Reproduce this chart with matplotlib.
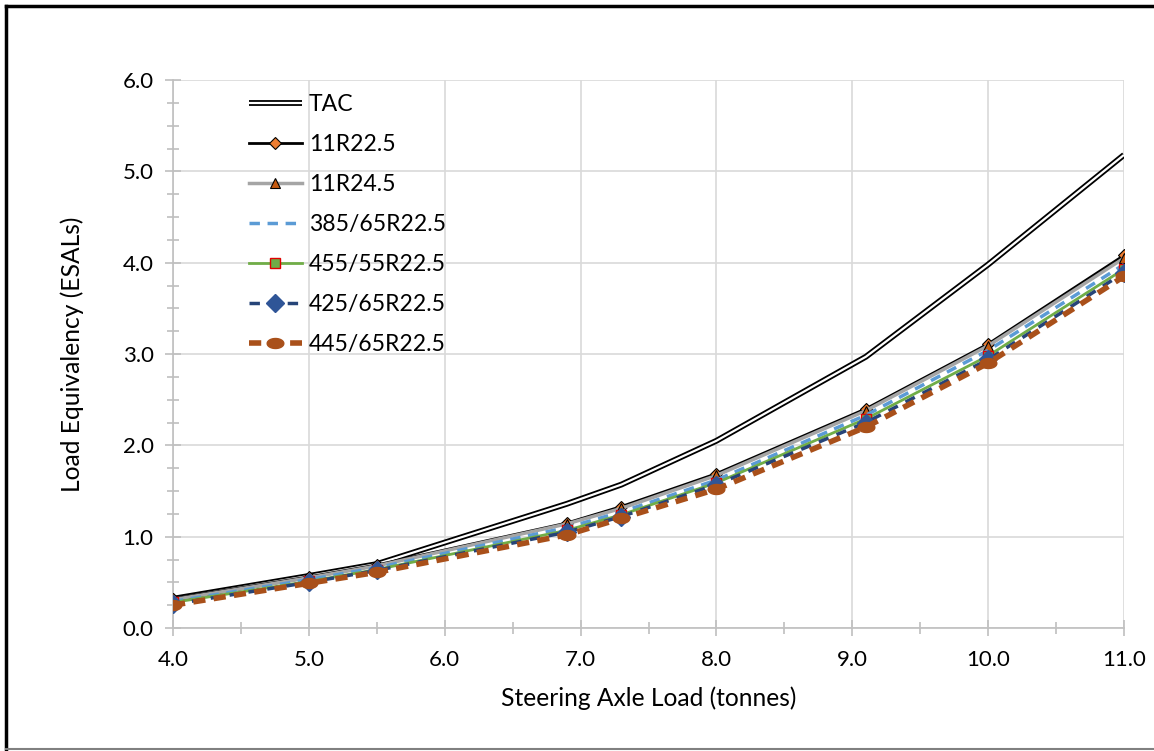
import matplotlib
matplotlib.use("Agg")
import matplotlib.pyplot as plt
import matplotlib.patheffects as pe
import numpy as np
from matplotlib.ticker import MultipleLocator, FormatStrFormatter
from matplotlib.lines import Line2D
from matplotlib.path import Path

plt.rcParams['font.family'] = ['Lato', 'DejaVu Sans']

load = [4.0, 5.0, 5.5, 6.9, 7.3, 8.0, 9.1, 10.0, 11.0]
tac = [0.32, 0.57, 0.70, 1.36, 1.57, 2.05, 2.97, 3.98, 5.18]
r11_225 = [0.32, 0.56, 0.69, 1.15, 1.33, 1.69, 2.40, 3.11, 4.08]
r11_245 = [0.31, 0.55, 0.68, 1.14, 1.31, 1.67, 2.38, 3.09, 4.05]
r385 = [0.29, 0.53, 0.66, 1.10, 1.27, 1.62, 2.33, 3.04, 3.98]
r455 = [0.28, 0.51, 0.64, 1.07, 1.24, 1.59, 2.29, 2.98, 3.93]
r425 = [0.26, 0.50, 0.63, 1.05, 1.22, 1.57, 2.25, 2.94, 3.89]
r445 = [0.25, 0.49, 0.61, 1.02, 1.20, 1.52, 2.20, 2.90, 3.85]

# horizontal ellipse marker
_t = np.linspace(0, 2 * np.pi, 40)
ellipse = Path(np.column_stack([np.cos(_t), 0.6 * np.sin(_t)]), closed=True)

fig = plt.figure(figsize=(11.54, 7.51), dpi=100)
ax = fig.add_axes([173/1154, 1-628/751, (1124-173)/1154, (628-80)/751])

ax.plot(load, tac, color='white', lw=1.6, label='TAC', solid_capstyle='butt',
        path_effects=[pe.Stroke(linewidth=4.2, foreground='black'), pe.Normal()], zorder=3)
ax.plot(load, r11_225, color='black', lw=2, marker='D', ms=6, mfc='#ED7D31', mec='black', mew=0.8,
        label='11R22.5', zorder=4)
ax.plot(load, r11_245, color='#A5A5A5', lw=2.5, marker='^', ms=7, mfc='#C55A11', mec='black', mew=0.8,
        label='11R24.5', zorder=4)
ax.plot(load, r385, color='#5B9BD5', lw=2.5, ls=(0, (3, 2.2)), label='385/65R22.5', zorder=4)
ax.plot(load, r455, color='#70AD47', lw=2, marker='s', ms=7, mfc='#70AD47', mec='#E00000', mew=1,
        label='455/55R22.5', zorder=4)
ax.plot(load, r425, color='#264478', lw=2.5, ls=(0, (3, 2.5)), marker='D', ms=9.5, mfc='#2F5597',
        mec='#2F5597', label='425/65R22.5', zorder=4)
ax.plot(load, r445, color='#A9501A', lw=4, ls=(0, (2.2, 1.5)), marker=ellipse, ms=12, mfc='#A9501A',
        mec='#A9501A', label='445/65R22.5', zorder=5)

ax.set_xlim(4, 11)
ax.set_ylim(0, 6)
ax.xaxis.set_major_locator(MultipleLocator(1))
ax.xaxis.set_minor_locator(MultipleLocator(0.5))
ax.yaxis.set_major_locator(MultipleLocator(1))
ax.yaxis.set_minor_locator(MultipleLocator(0.25))
ax.xaxis.set_major_formatter(FormatStrFormatter('%.1f'))
ax.yaxis.set_major_formatter(FormatStrFormatter('%.1f'))
ax.grid(True, which='major', color='#D9D9D9', lw=1.2)
for s in ['top', 'right']:
    ax.spines[s].set_visible(False)
for s in ['left', 'bottom']:
    ax.spines[s].set_color('#BFBFBF')
    ax.spines[s].set_linewidth(1.2)
ax.tick_params(which='both', direction='inout', color='#BFBFBF', width=1.2, labelsize=16,
               labelcolor='black')
ax.tick_params(which='major', length=12)
ax.tick_params(axis='x', which='major', pad=10)
ax.tick_params(axis='y', which='major', pad=8)
ax.tick_params(which='minor', length=8)
ax.set_axisbelow(True)

ax.set_xlabel('Steering Axle Load (tonnes)', fontsize=17.7, labelpad=12)
ax.set_ylabel('Load Equivalency (ESALs)', fontsize=17.7, labelpad=28)

leg = ax.legend(loc='upper left', bbox_to_anchor=(0.058, 1.012), frameon=False, fontsize=16.6,
                handlelength=2.3, labelspacing=0.82, handletextpad=0.3)

# outer chart frame
fig.add_artist(Line2D([0.005, 0.005], [0.003, 0.992], color='black', lw=2.5, transform=fig.transFigure))
fig.add_artist(Line2D([0.005, 1.0], [0.992, 0.992], color='black', lw=2.5, transform=fig.transFigure))
fig.add_artist(Line2D([0.005, 1.0], [0.003, 0.003], color='#808080', lw=1.5, transform=fig.transFigure))

fig.savefig('out.png', dpi=100)
